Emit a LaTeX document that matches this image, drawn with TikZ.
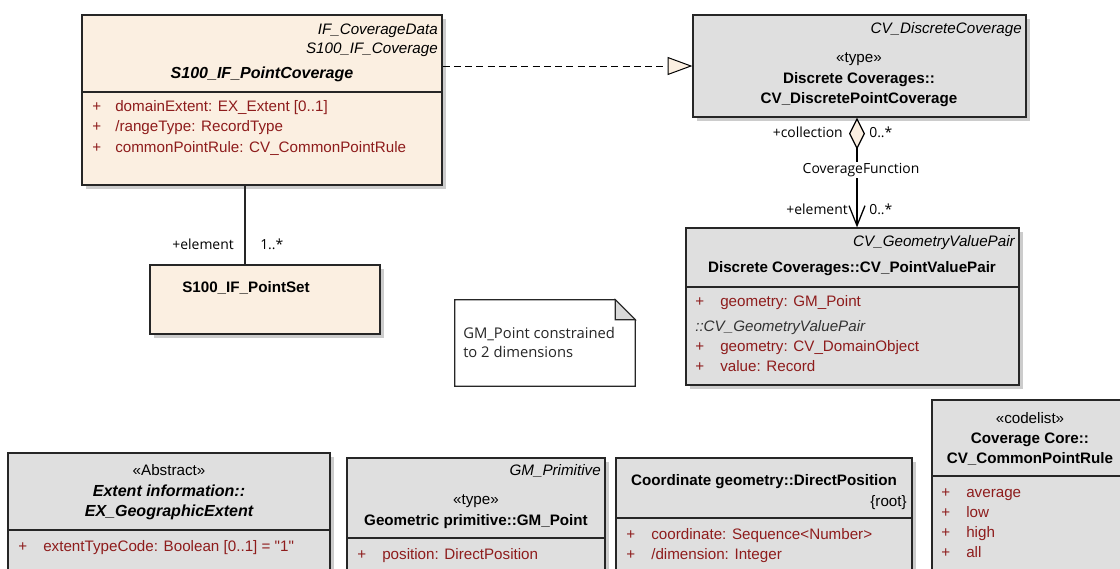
\documentclass[tikz,border=0pt]{standalone}
\usepackage{fontspec}
\setmainfont{Liberation Sans}[Ligatures=TeXOff]
\newfontfamily\segoe{Open Sans}
\usetikzlibrary{arrows.meta,positioning,fit,shadows}
\definecolor{peach}{HTML}{FBEFE1}
\definecolor{umlgray}{HTML}{DFDFDF}
\definecolor{attrred}{HTML}{8E1C1C}
\definecolor{edgegray}{HTML}{262626}
\definecolor{foldgray}{HTML}{D9D9D9}
\tikzset{
  classbox/.style={draw=edgegray,line width=0.9pt,inner sep=0pt,
    drop shadow={shadow xshift=0.1cm,shadow yshift=-0.1cm,fill=black!20,opacity=1}},
  s100class/.style={classbox,fill=peach},
  isoclass/.style={classbox,fill=umlgray},
  lbl/.style={inner sep=0pt,text height=7.8pt,text depth=2pt,font=\fontsize{10.8}{13}\selectfont},
  parent/.style={lbl,anchor=east,font=\fontsize{10.8}{13}\selectfont\itshape},
  stereo/.style={lbl},
  cname/.style={lbl,font=\fontsize{10.8}{13}\selectfont\bfseries},
  aname/.style={lbl,font=\fontsize{11.4}{13}\selectfont\bfseries\itshape},
  attr/.style={lbl,anchor=west,text=attrred},
  role/.style={inner sep=0pt,text height=7pt,text depth=2pt,font=\segoe\fontsize{9.9}{12}\selectfont},
  realize/.style={line width=0.7pt,dash pattern=on 5pt off 3pt,
    -{Triangle[length=0.62cm,width=0.45cm,fill=peach]}},
  assoc/.style={line width=0.9pt,
    {Diamond[length=0.8cm,width=0.4cm,fill=peach]}-{Straight Barb[length=0.5cm,width=0.4cm]}},
  compart/.style={draw=edgegray,line width=0.9pt}
}
\begin{document}
\begin{tikzpicture}[x=0.025cm,y=-0.025cm]
  \clip (0,0) rectangle (1120,568);
  \fill[white] (0,0) rectangle (1120,568);

  % S100 point coverage
  \node[s100class,fit={(82,15) (442,185)}] (pcov) {};
  \draw[compart] (pcov.west |- 0,92) -- (pcov.east |- 0,92);
  \node[parent] (pcovp1) at (438,30) {IF\_CoverageData};
  \node[parent] (pcovp2) at (438,49) {S100\_IF\_Coverage};
  \node[aname] (pcovn) at (262,74) {S100\_IF\_PointCoverage};
  \foreach \t [count=\i] in {domainExtent: EX\_Extent [0..1],
      /rangeType: RecordType, commonPointRule: CV\_CommonPointRule} {
    \node[attr] (pcovs\i) at (92,86.5+20.5*\i) {+};
    \node[attr] (pcova\i) at (115,86.5+20.5*\i) {\t};
  }

  % point set
  \node[s100class,fit={(150,265) (380,334)}] (pset) {};
  \node[cname] (psetn) at (246,288) {S100\_IF\_PointSet};

  % discrete point coverage
  \node[isoclass,fit={(693,15) (1026,117)}] (dcov) {};
  \node[parent] (dcovp) at (1022,29) {CV\_DiscreteCoverage};
  \node[stereo] (dcovs) at (859,58) {«type»};
  \node[cname] (dcovn1) at (859,79) {Discrete Coverages::};
  \node[cname] (dcovn2) at (859,99) {CV\_DiscretePointCoverage};

  % point value pair
  \node[isoclass,fit={(686,228) (1019,385)}] (pvp) {};
  \draw[compart] (pvp.west |- 0,287) -- (pvp.east |- 0,287);
  \node[parent] (pvpp) at (1015,242) {CV\_GeometryValuePair};
  \node[cname] (pvpn) at (852,268) {Discrete Coverages::CV\_PointValuePair};
  \node[attr] (pvps1) at (695,302) {+};
  \node[attr] (pvpa1) at (720,302) {geometry: GM\_Point};
  \node[lbl,anchor=west,font=\fontsize{10.8}{13}\selectfont\itshape,text=black!80] (pvpi) at (695,327) {::CV\_GeometryValuePair};
  \node[attr] (pvps2) at (695,347) {+};
  \node[attr] (pvpa2) at (720,347) {geometry: CV\_DomainObject};
  \node[attr] (pvps3) at (695,367) {+};
  \node[attr] (pvpa3) at (720,367) {value: Record};

  % note
  \node[inner sep=0pt,fit={(455,300) (635,386)}] (note) {};
  \draw[fill=white,draw=edgegray,line width=0.8pt] (note.north west) -- ([xshift=-0.5cm]note.north east)
    -- ([yshift=-0.5cm]note.north east) -- (note.south east) -- (note.south west) -- cycle;
  \draw[fill=foldgray,draw=edgegray,line width=0.8pt] ([xshift=-0.5cm]note.north east)
    -- ([xshift=-0.5cm,yshift=-0.5cm]note.north east) -- ([yshift=-0.5cm]note.north east) -- cycle;
  \node[lbl,anchor=west,font=\segoe\fontsize{10.5}{12}\selectfont,text=black!85] (notet1) at (463,334) {GM\_Point constrained};
  \node[lbl,anchor=west,font=\segoe\fontsize{10.5}{12}\selectfont,text=black!85] (notet2) at (463,353) {to 2 dimensions};

  % geographic extent
  \node[isoclass,fit={(8,453) (330,620)}] (gext) {};
  \draw[compart] (gext.west |- 0,530) -- (gext.east |- 0,530);
  \node[stereo] (gexts) at (169,471) {«Abstract»};
  \node[aname] (gextn1) at (169,492) {Extent information::};
  \node[aname] (gextn2) at (169,512) {EX\_GeographicExtent};
  \node[attr] (gexts1) at (18,547) {+};
  \node[attr] (gexta1) at (43,547) {extentTypeCode: Boolean [0..1] = "1"};

  % GM point
  \node[isoclass,fit={(347,458) (605,620)}] (gmpt) {};
  \draw[compart] (gmpt.west |- 0,538) -- (gmpt.east |- 0,538);
  \node[parent] (gmptp) at (601,471) {GM\_Primitive};
  \node[stereo] (gmpts) at (476,500) {«type»};
  \node[cname] (gmptn) at (476,521) {Geometric primitive::GM\_Point};
  \node[attr] (gmpts1) at (357,555) {+};
  \node[attr] (gmpta1) at (382,555) {position: DirectPosition};

  % direct position
  \node[isoclass,fit={(616,458) (912,620)}] (dpos) {};
  \draw[compart] (dpos.west |- 0,518) -- (dpos.east |- 0,518);
  \node[cname] (dposn) at (764,481) {Coordinate geometry::DirectPosition};
  \node[lbl,anchor=east] (dposr) at (907,502) {\{root\}};
  \node[attr] (dposs1) at (626,535) {+};
  \node[attr] (dposa1) at (651,535) {coordinate: Sequence<Number>};
  \node[attr] (dposs2) at (626,555) {+};
  \node[attr] (dposa2) at (651,555) {/dimension: Integer};

  % common point rule
  \node[isoclass,fit={(932,400) (1140,620)}] (cpr) {};
  \draw[compart] (cpr.west |- 0,476) -- (cpr.east |- 0,476);
  \node[stereo] (cprs) at (1030,419) {«codelist»};
  \node[cname] (cprn1) at (1030,439) {Coverage Core::};
  \node[cname] (cprn2) at (1030,459) {CV\_CommonPointRule};
  \foreach \t [count=\i] in {average,low,high,all} {
    \node[attr] (cprs\i) at (941,473+20*\i) {+};
    \node[attr] (cpra\i) at (966,473+20*\i) {\t};
  }

  % connectors
  \draw[realize] (pcov.east |- dcov.west) -- (dcov.west);
  \draw[assoc] (dcov.south -| 857,0) -- (pvp.north -| 857,0);
  \node[role,fill=white,inner sep=1pt] (cfun) at (861,170) {CoverageFunction};
  \node[role,anchor=east] (collr) at (843,134) {+collection};
  \node[role,anchor=west] (collm) at (869,134) {0..*};
  \node[role,anchor=east] (elemr) at (848,211) {+element};
  \node[role,anchor=west] (elemm) at (869,211) {0..*};
  \draw[line width=0.9pt,draw=edgegray] (pcov.south -| 245,0) -- (pset.north -| 245,0);
  \node[role,anchor=east] (setr) at (234,246) {+element};
  \node[role,anchor=west] (setm) at (260,246) {1..*};
\end{tikzpicture}
\end{document}
